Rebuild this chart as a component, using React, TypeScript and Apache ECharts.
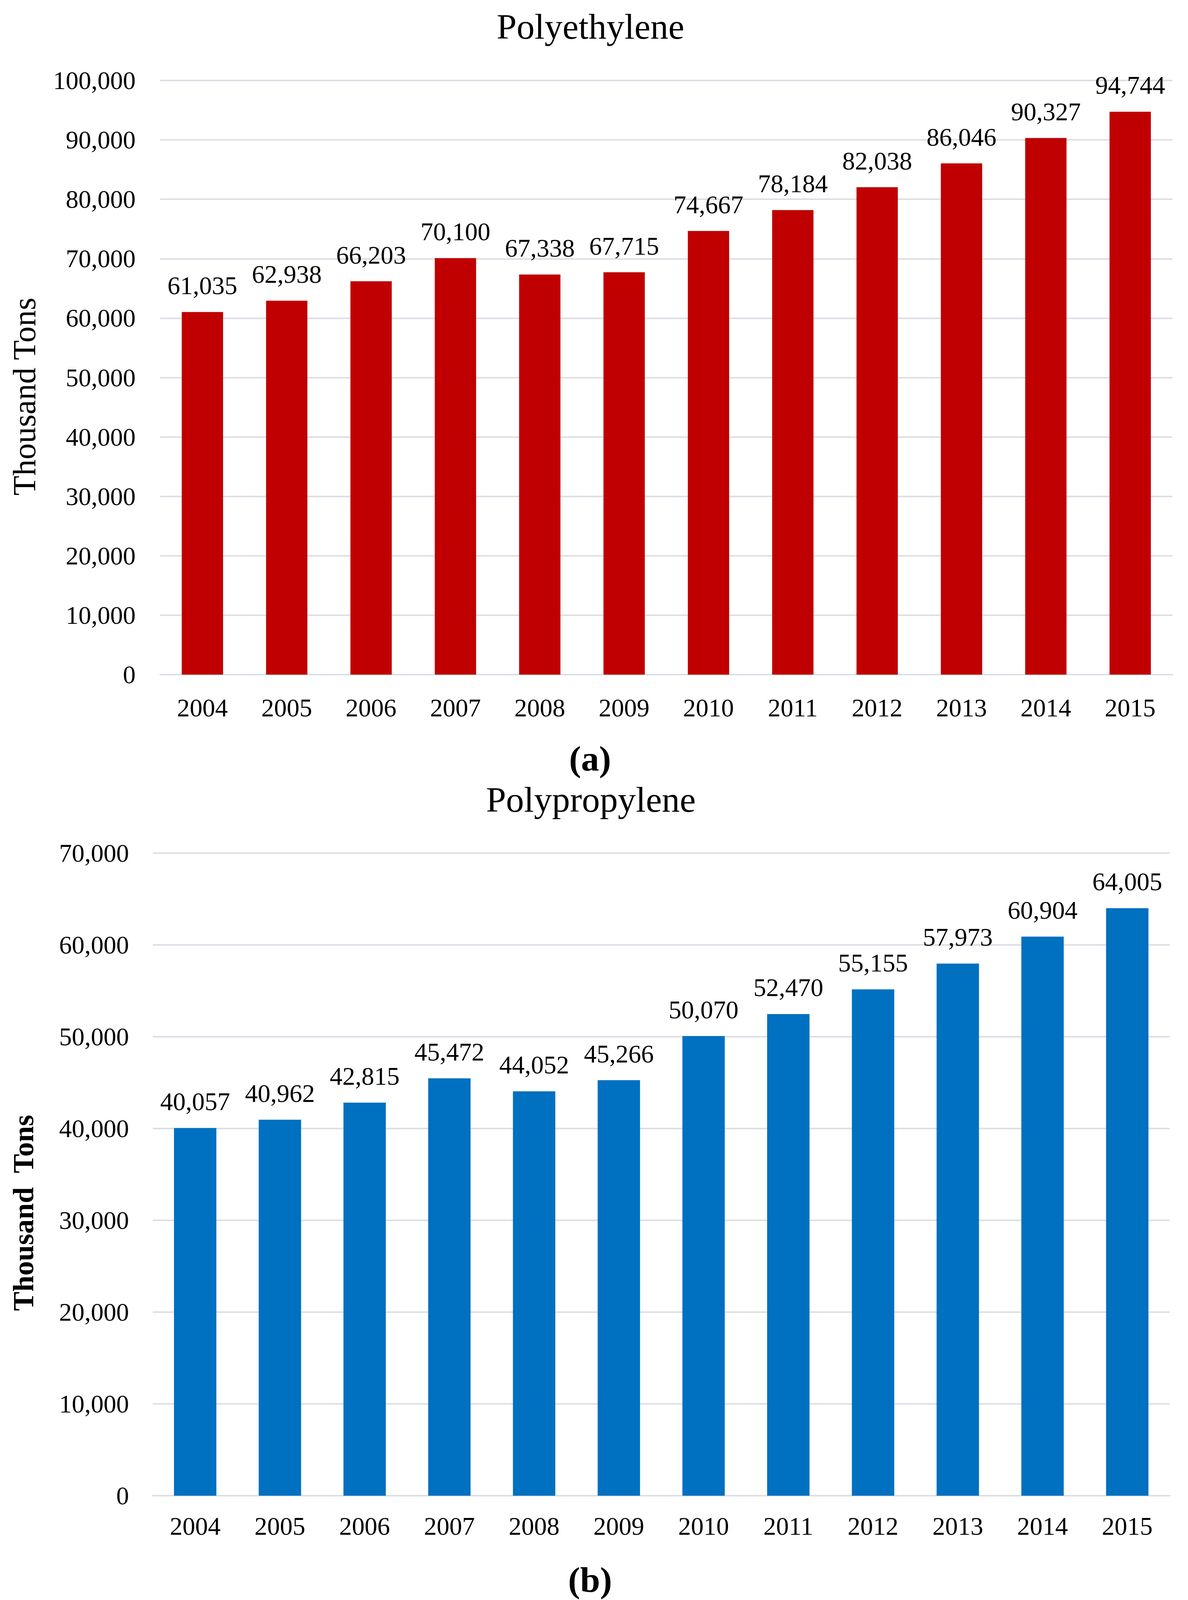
import React, { useEffect, useRef } from "react";
import * as echarts from "echarts";

const years = ["2004", "2005", "2006", "2007", "2008", "2009", "2010", "2011", "2012", "2013", "2014", "2015"];
const polyethylene = [61035, 62938, 66203, 70100, 67338, 67715, 74667, 78184, 82038, 86046, 90327, 94744];
const polypropylene = [40057, 40962, 42815, 45472, 44052, 45266, 50070, 52470, 55155, 57973, 60904, 64005];
const titleTop = "Polyethylene";
const titleBottom = "Polypropylene";
const yTitleTop = "Thousand Tons";
const yTitleBottom = "Thousand  Tons";
const captionTop = "(a)";
const captionBottom = "(b)";

const FONT = "'Liberation Serif', 'Times New Roman', serif";
const fmt = (v: number) => v.toLocaleString("en-US");

export default function App() {
  const ref = useRef<HTMLDivElement>(null);
  useEffect(() => {
    if (!ref.current) return;
    const chart = echarts.init(ref.current, undefined, { renderer: "svg" });
    const gridColor = "#dcdfe6";
    const axisCommon = (gi: number, margin: number) => ({
      type: "category" as const,
      gridIndex: gi,
      data: years,
      axisLine: { show: true, lineStyle: { color: gridColor, width: 4 } },
      axisTick: { show: false },
      axisLabel: { color: "#000", fontFamily: FONT, fontSize: 65, margin },
    });
    const yCommon = (gi: number, max: number, margin: number) => ({
      type: "value" as const,
      gridIndex: gi,
      min: 0,
      max,
      interval: 10000,
      axisLine: { show: false },
      axisTick: { show: false },
      splitLine: { lineStyle: { color: gridColor, width: 4 } },
      axisLabel: { color: "#000", fontFamily: FONT, fontSize: 65, margin, formatter: (v: number) => fmt(v) },
    });
    const label = {
      show: true,
      position: "top" as const,
      distance: 35,
      color: "#000",
      fontFamily: FONT,
      fontSize: 65,
      formatter: (p: any) => fmt(p.value),
    };
    chart.setOption({
      animation: false,
      backgroundColor: "#fff",
      grid: [
        { left: 410, right: 40, top: 206, height: 1521 },
        { left: 391, right: 47, top: 2184, height: 1645 },
      ],
      xAxis: [axisCommon(0, 52), axisCommon(1, 45)],
      yAxis: [yCommon(0, 100000, 63), yCommon(1, 70000, 61)],
      series: [
        {
          type: "bar",
          xAxisIndex: 0,
          yAxisIndex: 0,
          data: polyethylene,
          barWidth: "49%",
          itemStyle: { color: "#C00000" },
          label,
        },
        {
          type: "bar",
          xAxisIndex: 1,
          yAxisIndex: 1,
          data: polypropylene,
          barWidth: "50%",
          itemStyle: { color: "#0070C0" },
          label,
        },
      ],
      graphic: [
        {
          type: "text",
          x: 1511,
          y: 68,
          style: { text: titleTop, font: `92px ${FONT}`, fill: "#000", textAlign: "center", textVerticalAlign: "middle" },
        },
        {
          type: "text",
          x: 1512,
          y: 2047,
          style: { text: titleBottom, font: `92px ${FONT}`, fill: "#000", textAlign: "center", textVerticalAlign: "middle" },
        },
        {
          type: "text",
          x: 1510,
          y: 1942,
          style: { text: captionTop, font: `bold 92px ${FONT}`, fill: "#000", textAlign: "center", textVerticalAlign: "middle" },
        },
        {
          type: "text",
          x: 1510,
          y: 4044,
          style: { text: captionBottom, font: `bold 92px ${FONT}`, fill: "#000", textAlign: "center", textVerticalAlign: "middle" },
        },
        {
          type: "text",
          x: 62,
          y: 1015,
          rotation: Math.PI / 2,
          style: { text: yTitleTop, font: `83px ${FONT}`, fill: "#000", textAlign: "center", textVerticalAlign: "middle" },
        },
        {
          type: "text",
          x: 60,
          y: 3105,
          rotation: Math.PI / 2,
          style: { text: yTitleBottom, font: `bold 74px ${FONT}`, fill: "#000", textAlign: "center", textVerticalAlign: "middle" },
        },
      ],
    });
    return () => chart.dispose();
  }, []);
  return (
    <div
      ref={ref}
      style={{ position: "fixed", left: 0, top: 0, width: 3040, height: 4099, background: "#fff" }}
    />
  );
}
